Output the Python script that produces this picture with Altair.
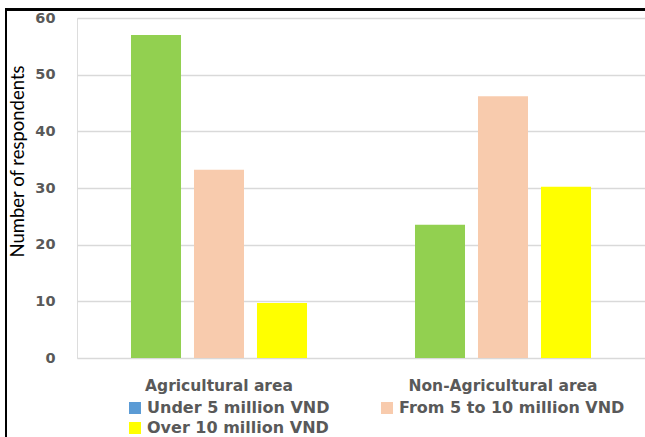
import altair as alt
import pandas as pd

areas = ["Agricultural area", "Non-Agricultural area"]
series = ["Under 5 million VND", "From 5 to 10 million VND", "Over 10 million VND"]
under5 = [57.0, 23.5]
from5to10 = [33.2, 46.2]
over10 = [9.7, 30.2]
y_ticks = [0, 10, 20, 30, 40, 50, 60]

rows = []
for i, a in enumerate(areas):
    for s, vals in zip(series, [under5, from5to10, over10]):
        rows.append({"area": a, "series": s, "value": vals[i]})
df = pd.DataFrame(rows)

FONT = "DejaVu Sans"
GREY = "#595959"

x_enc = alt.X("area:N", sort=areas, scale=alt.Scale(paddingInner=0, paddingOuter=0),
              axis=alt.Axis(title=None, labelAngle=0, labelFont=FONT, labelFontSize=15.5,
                            labelFontWeight="bold", labelColor=GREY, domain=False, ticks=False,
                            tickSize=0, labelPadding=20, labelLimit=400))
y_enc = alt.Y("value:Q", scale=alt.Scale(domain=[0, 60], nice=False),
              axis=alt.Axis(title="Number of respondents", values=y_ticks, domain=False,
                            ticks=False, tickSize=0, labelPadding=22, labelFont=FONT,
                            labelFontSize=14.5, labelFontWeight="bold", labelColor=GREY,
                            gridColor="#D9D9D9", gridWidth=1.3,
                            titleFont="Lato", titleFontSize=18.5, titleFontWeight="normal",
                            titleColor="#000000", titleX=-60, titleY=143, titleAngle=270,
                            titleBaseline="middle", titleAlign="center"))
xo = alt.XOffset("series:N", sort=series,
                 scale=alt.Scale(domain=series, paddingInner=0.206, paddingOuter=0.857))

bars = alt.Chart(df).mark_bar().encode(
    x=x_enc, y=y_enc, xOffset=xo,
    color=alt.Color("series:N", scale=alt.Scale(domain=series,
                    range=["#92D050", "#F8CBAD", "#FFFF00"]), legend=None),
)

legend_order = [series[0], series[2], series[1]]
legend_layer = alt.Chart(df).mark_square(opacity=0).encode(
    x=alt.X("area:N", sort=areas), y="value:Q", xOffset=xo,
    fill=alt.Fill("series:N", scale=alt.Scale(domain=legend_order,
                  range=["#5B9BD5", "#FFFF00", "#F8CBAD"]),
                  legend=alt.Legend(title=None, orient="none", legendX=50, legendY=382,
                                    columns=2, columnPadding=49, rowPadding=4,
                                    symbolType="square", symbolSize=144, symbolOpacity=1,
                                    symbolStrokeWidth=0, labelLimit=400,
                                    labelFont=FONT, labelFontSize=16, labelFontWeight="bold",
                                    labelColor=GREY, labelOffset=4)),
)

frame_top = alt.Chart(df).mark_rule(color="black", strokeWidth=2).encode(
    x=alt.value(-71), x2=alt.value(568), y=alt.value(-8.5))
frame_left = alt.Chart(df).mark_rule(color="black", strokeWidth=2).encode(
    x=alt.value(-71), y=alt.value(-9.5), y2=alt.value(419))

chart = alt.layer(bars, legend_layer, frame_top, frame_left).resolve_scale(
    color="independent", fill="independent"
).properties(
    width=568, height=340,
    autosize=alt.AutoSizeParams(type="none"),
    padding={"left": 77, "top": 18, "right": 0, "bottom": 79},
).configure_view(stroke=None).configure(background="white")

chart.save("out.html", embed_options={"renderer": "svg", "actions": False})
